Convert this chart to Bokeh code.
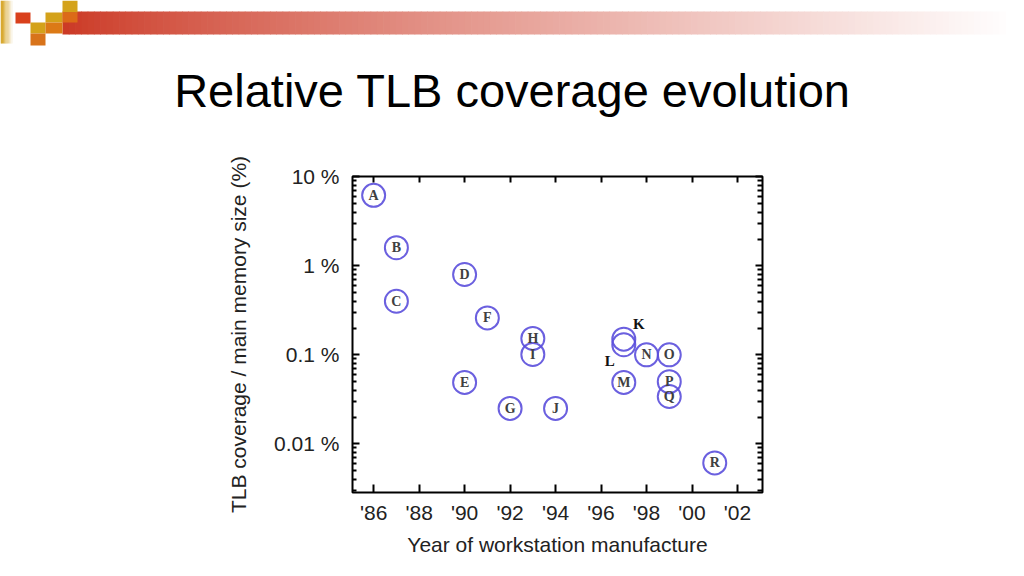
from bokeh.plotting import figure
from bokeh.models import (Range1d, FixedTicker, LogAxis, LinearAxis,
                          ColumnDataSource)
from bokeh.layouts import column
from bokeh.embed import file_html
from bokeh.resources import INLINE
from bokeh.core.properties import value

# ---------------- data ----------------
labels = ["A", "B", "C", "D", "E", "F", "G", "H", "I", "J",
          "K", "L", "M", "N", "O", "P", "Q", "R"]
years = [1986, 1987, 1987, 1990, 1990, 1991, 1992, 1993, 1993, 1994,
         1997, 1997, 1997, 1998, 1999, 1999, 1999, 2001]
coverage = [6.2, 1.6, 0.40, 0.80, 0.049, 0.26, 0.025, 0.153, 0.101, 0.025,
            0.15, 0.13, 0.049, 0.10, 0.10, 0.050, 0.034, 0.0061]

x_ticks = [1986, 1988, 1990, 1992, 1994, 1996, 1998, 2000, 2002]
x_tick_labels = ["'86", "'88", "'90", "'92", "'94", "'96", "'98", "'00", "'02"]
y_ticks = [0.01, 0.1, 1, 10]
y_tick_labels = ["0.01 %", "0.1 %", "1 %", "10 %"]

title_text = "Relative TLB coverage evolution"
x_title = "Year of workstation manufacture"
y_title = "TLB coverage / main memory size (%)"

# labels drawn outside their circle (styling: pixel offsets)
outside_offsets = {"K": (15, -15), "L": (-14, 16)}

W = 1024
HH = 132          # header height
H = 576 - HH      # chart height

# ---------------- header ----------------
h = figure(width=W, height=HH, x_range=Range1d(0, W), y_range=Range1d(HH, 0),
           output_backend="svg", toolbar_location=None, min_border=0,
           x_axis_location=None, y_axis_location=None)
h.frame_align = False
h.grid.visible = False
h.outline_line_color = None
h.background_fill_color = "white"
h.border_fill_color = "white"

# gradient bar
n = 150
x0, x1 = 62, 1005
c0 = (204, 58, 38)
c1 = (255, 253, 253)
lefts, rights, cols = [], [], []
for i in range(n):
    t = (i / (n - 1)) ** 0.85
    cols.append("#%02x%02x%02x" % tuple(int(a + (b - a) * t) for a, b in zip(c0, c1)))
    lefts.append(x0 + (x1 - x0) * i / n)
    rights.append(x0 + (x1 - x0) * (i + 1) / n + 0.7)
h.quad(left=lefts, right=rights, top=[11] * n, bottom=[34] * n,
       fill_color=cols, line_color=None)

# gold strip at the far left, fading to white
m = 10
g0 = (212, 160, 26)
sl, sr, sc = [], [], []
for i in range(m):
    t = i / (m - 1)
    sc.append("#%02x%02x%02x" % tuple(int(a + (255 - a) * t * 0.9) for a in g0))
    sl.append(i * 1.2)
    sr.append(i * 1.2 + 1.4)
h.quad(left=sl, right=sr, top=[0] * m, bottom=[43] * m, fill_color=sc, line_color=None)

# decorative squares
sq_l = [15, 30, 30, 45, 45, 62, 62]
sq_r = [30, 45, 45, 62, 62, 77, 77]
sq_t = [12, 22, 33, 12, 22, 0, 12]
sq_b = [23, 33, 45, 22, 33, 12, 22]
sq_c = ["#d9401c", "#d4a21a", "#d8731a", "#d4a21a", "#dc7a16",
        "#d4a21a", "#dc6a18"]
h.quad(left=sq_l, right=sq_r, top=sq_t, bottom=sq_b, fill_color=sq_c, line_color=None)

h.text(x=[512], y=[90], text=[title_text], text_font=value("Liberation Sans"),
       text_font_size="47px", text_color="#000000", text_align="center",
       text_baseline="alphabetic")

# ---------------- main chart ----------------
frame_l, frame_r, frame_t, frame_b = 352, 762, 176, 492
p = figure(width=W, height=H, x_range=Range1d(1985.07, 2003.1),
           y_range=Range1d(10 ** -2.547, 10.1), y_axis_type="log",
           output_backend="svg", toolbar_location=None,
           min_border_left=frame_l, min_border_right=W - frame_r,
           min_border_top=frame_t - HH, min_border_bottom=576 - frame_b)
p.frame_align = False
p.grid.visible = False
p.outline_line_color = "black"
p.outline_line_width = 2
p.background_fill_color = "white"
p.border_fill_color = "white"

minor = [k * 10.0 ** e for e in range(-3, 2) for k in range(2, 10)]
yticker = FixedTicker(ticks=y_ticks, minor_ticks=minor)
xticker = FixedTicker(ticks=x_ticks)

font_col = "#222222"
fs = "21px"

ax = p.xaxis[0]
ax.ticker = xticker
ax.major_label_overrides = dict(zip(x_ticks, x_tick_labels))
ax.axis_label = x_title
ax.axis_line_color = None
ax.major_tick_in = 8
ax.major_tick_out = 0
ax.major_tick_line_width = 2
ax.minor_tick_line_color = None
ax.major_label_standoff = 8
ax.major_label_text_font = "Liberation Sans"
ax.major_label_text_font_size = fs
ax.major_label_text_color = font_col
ax.axis_label_text_font = "Liberation Sans"
ax.axis_label_text_font_size = fs
ax.axis_label_text_font_style = "normal"
ax.axis_label_text_color = font_col
ax.axis_label_standoff = 6

ay = p.yaxis[0]
ay.ticker = yticker
ay.major_label_overrides = dict(zip(y_ticks, y_tick_labels))
ay.axis_label = y_title
ay.axis_line_color = None
ay.major_tick_in = 7
ay.major_tick_out = 0
ay.minor_tick_in = 4
ay.minor_tick_out = 0
ay.major_tick_line_width = 2
ay.minor_tick_line_width = 2
ay.major_label_standoff = 13
ay.major_label_text_font = "Liberation Sans"
ay.major_label_text_font_size = fs
ay.major_label_text_color = font_col
ay.axis_label_text_font = "Liberation Sans"
ay.axis_label_text_font_size = fs
ay.axis_label_text_font_style = "normal"
ay.axis_label_text_color = font_col
ay.axis_label_standoff = 21

top_axis = LinearAxis(ticker=xticker, axis_line_color=None, major_tick_in=6,
                      major_tick_out=0, major_tick_line_width=2,
                      minor_tick_line_color=None, major_label_standoff=0,
                      major_label_text_color=None)
p.add_layout(top_axis, "above")
right_axis = LogAxis(ticker=yticker, axis_line_color=None, major_tick_in=7,
                     major_tick_out=0, minor_tick_in=5, minor_tick_out=0,
                     major_tick_line_width=2, minor_tick_line_width=2,
                     major_label_standoff=0, major_label_text_color=None)
p.add_layout(right_axis, "right")

inside = [l if l not in outside_offsets else "" for l in labels]
src = ColumnDataSource(dict(year=years, cov=coverage, lab=inside))
p.scatter(x="year", y="cov", source=src, marker="circle", size=23,
          fill_color=None, line_color="#5b4fdc", line_width=2, line_alpha=0.9)
p.text(x="year", y="cov", text="lab", source=src,
       text_font=value("Liberation Serif"), text_font_size="14px",
       text_font_style="bold", text_color="#404040", text_align="center",
       text_baseline="middle")

out_idx = [i for i, l in enumerate(labels) if l in outside_offsets]
osrc = ColumnDataSource(dict(
    year=[years[i] for i in out_idx],
    cov=[coverage[i] for i in out_idx],
    lab=[labels[i] for i in out_idx],
    dx=[outside_offsets[labels[i]][0] for i in out_idx],
    dy=[outside_offsets[labels[i]][1] for i in out_idx],
))
p.text(x="year", y="cov", text="lab", source=osrc, x_offset="dx", y_offset="dy",
       text_font=value("Liberation Serif"), text_font_size="15px",
       text_font_style="bold", text_color="#111111", text_align="center",
       text_baseline="middle")

layout = column(h, p, spacing=0)
open("out.html", "w").write(file_html(layout, INLINE))
